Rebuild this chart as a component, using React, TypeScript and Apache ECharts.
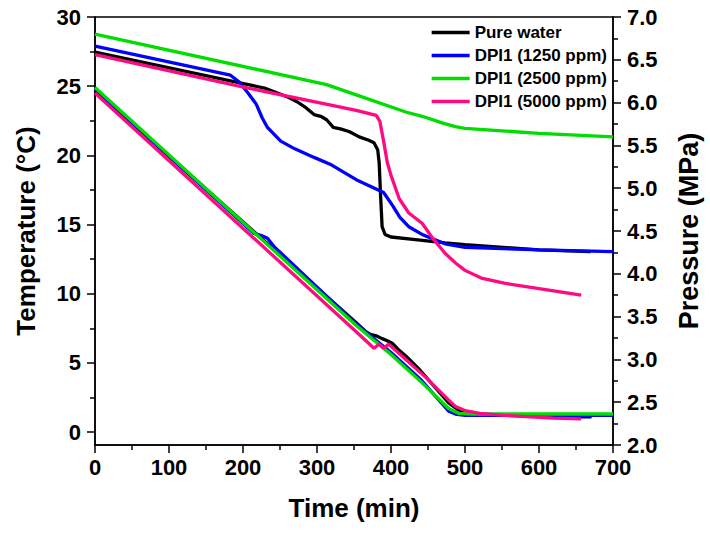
import React, { useEffect, useRef } from 'react';
import * as echarts from 'echarts';

const FONT = '"Liberation Sans", Arial, Helvetica, sans-serif';

// Legend names
const names = ['Pure water', 'DPI1 (1250 ppm)', 'DPI1 (2500 ppm)', 'DPI1 (5000 ppm)'];
const colors = ['#000000', '#0000ff', '#00dd00', '#ff0a80'];

// Temperature (°C) curves, left axis
const pureTempT = [0, 353, 365, 372, 380, 388, 395, 402, 411, 420, 437, 460, 478, 491, 510, 531, 620, 671];
const pureTempV = [24.7, 7.9, 7.3, 7.05, 6.95, 6.75, 6.6, 6.4, 5.9, 5.5, 4.6, 3.2, 2.1, 1.6, 1.35, 1.25, 1.1, 1.1];
const dpi1250TempT = [0, 215, 225, 233, 242, 353, 400, 440, 478, 487, 500, 600, 700];
const dpi1250TempV = [24.8, 14.35, 14.2, 14.0, 13.4, 7.8, 5.75, 3.8, 1.5, 1.3, 1.2, 1.2, 1.2];
const dpi2500TempT = [0, 353, 400, 442, 478, 491, 510, 700];
const dpi2500TempV = [24.9, 7.7, 5.6, 3.55, 1.7, 1.35, 1.3, 1.3];
const dpi5000TempT = [0, 353, 377, 384, 390, 397, 447, 464, 478, 487, 500, 520, 553, 620, 657];
const dpi5000TempV = [24.5, 7.25, 6.05, 6.35, 6.05, 6.35, 3.95, 3.05, 2.3, 1.85, 1.55, 1.35, 1.2, 1.0, 0.95];

// Pressure (MPa) curves, right axis
const purePresT = [0, 207, 229, 250, 262, 273, 285, 296, 305, 313, 322, 333, 344, 357, 370, 377, 382, 384, 386, 388, 392, 400, 433, 473, 500, 600, 670];
const purePresV = [6.59, 6.21, 6.17, 6.1, 6.06, 6.01, 5.94, 5.86, 5.84, 5.8, 5.71, 5.69, 5.66, 5.6, 5.56, 5.53, 5.45, 5.3, 4.9, 4.55, 4.46, 4.43, 4.4, 4.36, 4.34, 4.28, 4.26];
const dpi1250PresT = [0, 183, 195, 207, 218, 226, 233, 251, 270, 296, 320, 353, 390, 402, 412, 424, 442, 473, 500, 600, 700];
const dpi1250PresV = [6.66, 6.32, 6.24, 6.11, 5.98, 5.82, 5.71, 5.55, 5.46, 5.36, 5.27, 5.1, 4.95, 4.8, 4.66, 4.55, 4.46, 4.35, 4.31, 4.28, 4.26];
const dpi2500PresT = [0, 313, 353, 420, 442, 470, 487, 500, 550, 600, 650, 700];
const dpi2500PresV = [6.8, 6.21, 6.09, 5.89, 5.84, 5.76, 5.72, 5.7, 5.67, 5.64, 5.62, 5.6];
const dpi5000PresT = [0, 207, 353, 380, 385, 390, 395, 400, 411, 424, 442, 456, 473, 488, 500, 522, 553, 598, 657];
const dpi5000PresV = [6.56, 6.17, 5.91, 5.85, 5.78, 5.55, 5.3, 5.15, 4.88, 4.71, 4.59, 4.42, 4.24, 4.12, 4.04, 3.95, 3.89, 3.83, 3.75];

// Axis ranges / ticks
const timeMin = 0, timeMax = 700, timeStep = 100;
const tempMin = 0, tempMax = 30, tempStep = 5, tempAxisBottom = -0.94;
const presMin = 2, presMax = 7, presStep = 0.5;

const zip = (t: number[], v: number[]) => t.map((x, i) => [x, v[i]]);

const black = '#000';
const axisLineStyle = { color: black, width: 1.5 };

export default function App() {
  const ref = useRef<HTMLDivElement>(null);
  useEffect(() => {
    const chart = echarts.init(ref.current!, null, { renderer: 'svg' });
    const line = (i: number, t: number[], v: number[], yAxisIndex: number, z: number) => ({
      type: 'line',
      name: names[i],
      xAxisIndex: 0,
      yAxisIndex,
      data: zip(t, v),
      symbol: 'none',
      showSymbol: false,
      lineStyle: { color: colors[i], width: 3.3 },
      itemStyle: { color: colors[i] },
      z,
    });
    const option: any = {
      animation: false,
      textStyle: { fontFamily: FONT },
      grid: [
        { left: 95, right: 90, top: 17, bottom: 90, show: true, borderColor: black, borderWidth: 1.5 },
        { left: 95, right: 90, top: 17, bottom: 103 },
      ],
      legend: {
        data: names,
        orient: 'vertical',
        left: 430,
        top: 24,
        itemWidth: 38,
        itemHeight: 17,
        itemGap: 6,
        padding: 0,
        selectedMode: false,
        itemStyle: { opacity: 0 },
        lineStyle: { width: 3.3 },
        textStyle: { fontSize: 17, fontWeight: 'bold', color: black, fontFamily: FONT },
      },
      xAxis: [
        {
          type: 'value', gridIndex: 0, min: timeMin, max: timeMax, interval: timeStep,
          name: 'Time (min)', nameLocation: 'middle', nameGap: 50,
          nameTextStyle: { fontSize: 26, fontWeight: 'bold', color: black, fontFamily: FONT },
          axisLine: { show: true, onZero: false, lineStyle: axisLineStyle },
          axisTick: { show: true, length: 8, lineStyle: axisLineStyle },
          minorTick: { show: true, splitNumber: 2, length: 5, lineStyle: axisLineStyle },
          axisLabel: { fontSize: 22, fontWeight: 'bold', color: black, margin: 11, fontFamily: FONT },
          splitLine: { show: false },
        },
        { type: 'value', gridIndex: 1, min: timeMin, max: timeMax, show: false },
      ],
      yAxis: [
        {
          type: 'value', gridIndex: 0, min: tempAxisBottom, max: tempMax, position: 'left',
          name: 'Temperature (°C)', nameLocation: 'middle', nameGap: 56,
          nameTextStyle: { fontSize: 26, fontWeight: 'bold', color: black, fontFamily: FONT },
          axisLine: { show: true, onZero: false, lineStyle: axisLineStyle },
          axisTick: { show: false },
          axisLabel: { show: false },
          splitLine: { show: false },
        },
        {
          type: 'value', gridIndex: 0, min: presMin, max: presMax, interval: presStep, position: 'right',
          name: 'Pressure (MPa)', nameLocation: 'middle', nameGap: 62,
          nameTextStyle: { fontSize: 27, fontWeight: 'bold', color: black, fontFamily: FONT },
          axisLine: { show: true, onZero: false, lineStyle: axisLineStyle },
          axisTick: { show: true, length: 8, lineStyle: axisLineStyle },
          minorTick: { show: true, splitNumber: 2, length: 5, lineStyle: axisLineStyle },
          axisLabel: {
            fontSize: 22, fontWeight: 'bold', color: black, margin: 14, fontFamily: FONT,
            formatter: (v: number) => v.toFixed(1),
          },
          splitLine: { show: false },
        },
        {
          type: 'value', gridIndex: 1, min: tempMin, max: tempMax, interval: tempStep, position: 'left',
          axisLine: { show: false, onZero: false },
          axisTick: { show: true, length: 8, lineStyle: axisLineStyle },
          minorTick: { show: true, splitNumber: 2, length: 5, lineStyle: axisLineStyle },
          axisLabel: { fontSize: 22, fontWeight: 'bold', color: black, margin: 14, fontFamily: FONT },
          splitLine: { show: false },
        },
      ],
      series: [
        line(0, pureTempT, pureTempV, 0, 2),
        line(1, dpi1250TempT, dpi1250TempV, 0, 3),
        line(2, dpi2500TempT, dpi2500TempV, 0, 4),
        line(3, dpi5000TempT, dpi5000TempV, 0, 5),
        line(0, purePresT, purePresV, 1, 2),
        line(1, dpi1250PresT, dpi1250PresV, 1, 3),
        line(2, dpi2500PresT, dpi2500PresV, 1, 4),
        line(3, dpi5000PresT, dpi5000PresV, 1, 5),
      ],
    };
    chart.setOption(option);
    return () => chart.dispose();
  }, []);
  return <div ref={ref} style={{ position: 'absolute', left: 0, top: 0, width: 710, height: 535 }} />;
}
